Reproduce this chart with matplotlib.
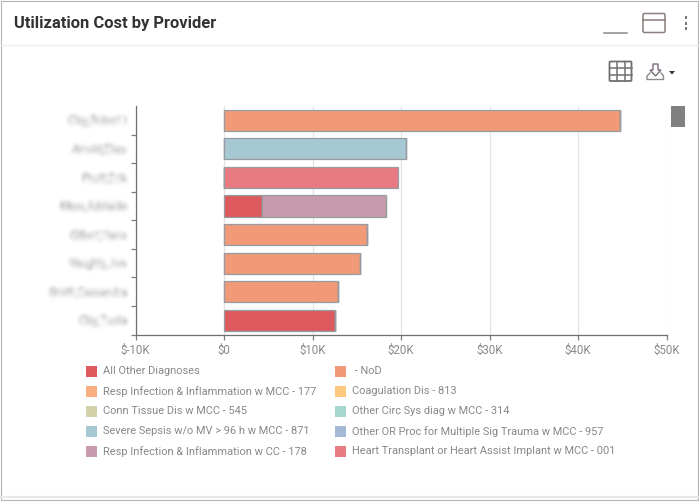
import numpy as np
import matplotlib
matplotlib.use('Agg')
import matplotlib.pyplot as plt
from matplotlib.patches import Rectangle, FancyBboxPatch, Polygon
from matplotlib.ticker import FuncFormatter

W, H = 699, 501

# names in the source image are blurred, these are best guesses
providers = ['Clay,Robert I', 'Arnold,Elias', 'Pruitt,Erik', 'Mass,Adelaide',
             'Gilbert,Hans', 'Vaughty,Jon', 'Smith,Cassandra', 'Clay,Tuola']
diagnoses = ['All Other Diagnoses', ' - NoD',
             'Resp Infection & Inflammation w MCC - 177', 'Coagulation Dis - 813',
             'Conn Tissue Dis w MCC - 545', 'Other Circ Sys diag w MCC - 314',
             'Severe Sepsis w/o MV > 96 h w MCC - 871',
             'Other OR Proc for Multiple Sig Trauma w MCC - 957',
             'Resp Infection & Inflammation w CC - 178',
             'Heart Transplant or Heart Assist Implant w MCC - 001']
colors = ['#dc5a5e', '#f09a78', '#f8ae80', '#fcc880', '#d2d2aa',
          '#a6d7cf', '#a5c8d2', '#a5b9d7', '#c79bac', '#e87a82']

# $K per provider, one list per diagnosis
all_other = [0, 0, 0, 4.25, 0, 0, 0, 12.55]
nod = [44.75, 0, 0, 0, 16.15, 15.4, 12.85, 0]
resp_177 = [0, 0, 0, 0, 0, 0, 0, 0]
coag_813 = [0, 0, 0, 0, 0, 0, 0, 0]
conn_545 = [0, 0, 0, 0, 0, 0, 0, 0]
circ_314 = [0, 0, 0, 0, 0, 0, 0, 0]
sepsis_871 = [0, 20.6, 0, 0, 0, 0, 0, 0]
trauma_957 = [0, 0, 0, 0, 0, 0, 0, 0]
resp_178 = [0, 0, 0, 14.0, 0, 0, 0, 0]
heart_001 = [0, 0, 19.7, 0, 0, 0, 0, 0]
series = [all_other, nod, resp_177, coag_813, conn_545,
          circ_314, sepsis_871, trauma_957, resp_178, heart_001]

xticks = [-10, 0, 10, 20, 30, 40, 50]

plt.rcParams['font.family'] = ['Roboto', 'DejaVu Sans']
GREY = '#7d7d7d'


def blur_filter(image, dpi, sigma=1.5, pad=6):
    ''' Gaussian blur for the provider names, passed to set_agg_filter '''
    xs = np.arange(-pad, pad + 1)
    kernel = np.exp(-xs ** 2 / (2 * sigma ** 2))
    kernel /= kernel.sum()
    out = np.pad(image, ((pad, pad), (pad, pad), (0, 0)))
    for axis in (0, 1):
        out = np.apply_along_axis(np.convolve, axis, out, kernel, mode='same')
    return out, -pad, -pad


fig = plt.figure(figsize=(W / 100, H / 100), dpi=100, facecolor='white')

# page chrome, drawn in pixel coordinates
page = fig.add_axes([0, 0, 1, 1], zorder=0)
page.set_xlim(0, W)
page.set_ylim(H, 0)
page.axis('off')

page.add_patch(Rectangle((0.5, 0.5), W - 1.5, H - 1.5, fill=False, ec='#b4b4b4', lw=0.8))
page.plot([1, W - 1], [44.5, 44.5], color='#ececec', lw=0.9)
page.plot([1, W - 1], [496.5, 496.5], color='#e8e8e8', lw=1.6)
page.text(14, 23, 'Utilization Cost by Provider', fontsize=11.85, fontweight='bold',
          color='#333333', va='center', ha='left')

page.plot([604, 627], [32.5, 32.5], color='#8a8a8a', lw=1.1)
page.add_patch(FancyBboxPatch((643, 13.5), 22, 19, boxstyle='round,pad=0,rounding_size=1.5',
                              fill=False, ec='#8a7f7a', lw=1.1))
page.plot([643, 665], [19.5, 19.5], color='#8a7f7a', lw=1.1)
for y in (17.5, 23.5, 28.5):
    page.add_patch(Rectangle((684.7, y - 1.3), 2.6, 2.6, color='#777777', lw=0))

page.add_patch(FancyBboxPatch((609.5, 61.5), 22, 19.5, boxstyle='round,pad=0,rounding_size=1',
                              fill=False, ec='#707070', lw=1.3))
for x in (617, 624.5):
    page.plot([x, x], [61.5, 81], color='#707070', lw=1.1)
for y in (68, 74.5):
    page.plot([609.5, 631.5], [y, y], color='#707070', lw=1.1)

page.add_patch(Polygon([(653, 64), (658, 64), (658, 70), (661, 70), (655.5, 76), (650, 70), (653, 70)],
                       fill=False, ec='#7a6a78', lw=1))
page.plot([650, 647, 647, 663.5, 663.5, 661], [73, 76, 79.5, 79.5, 76, 73], color='#8a8a8a', lw=1)
page.add_patch(Polygon([(669, 71), (675, 71), (672, 74.5)], color='#333333', lw=0))

page.add_patch(Rectangle((671, 105.5), 14, 21.5, color='#808080', lw=0))

# chart area: $-10K at x=135.5, $50K at x=666.5, band runs y=106 to 334.5
left, right, top, bottom = 135.5, 666.5, 106, 334.5
ax = fig.add_axes([left / W, 1 - bottom / H, (right - left) / W, (bottom - top) / H],
                  zorder=1)
ax.patch.set_alpha(0)

pos = list(range(len(providers)))
base = [0] * len(providers)
for vals, color in zip(series, colors):
    if not any(vals):
        continue
    ax.barh(pos, vals, left=base, height=0.74, color=color, edgecolor='#969ca2',
            linewidth=0.9, zorder=3)
    base = [b + v for b, v in zip(base, vals)]

ax.set_xlim(-10, 50)
ax.set_ylim(len(providers) - 0.5, -0.5)
ax.set_xticks(xticks)
ax.xaxis.set_major_formatter(FuncFormatter(lambda v, p: f'${v:.0f}K' if v else '$0'))
ax.set_yticks([p + 0.5 for p in pos])
ax.set_yticklabels([])
ax.grid(axis='x', color='#e4e4e4', lw=0.9, zorder=0)
ax.tick_params(axis='x', length=3.5, width=0.9, color=GREY, labelcolor='#8a8a8a',
               labelsize=8.3, pad=3.5)
ax.tick_params(axis='y', length=3.6, width=0.9, color=GREY)
for side in ('top', 'right'):
    ax.spines[side].set_visible(False)
for side in ('left', 'bottom'):
    ax.spines[side].set_color('#6e6e6e')
    ax.spines[side].set_linewidth(0.9)

for p, name in zip(pos, providers):
    t = ax.annotate(name, xy=(0, p), xycoords=('axes fraction', 'data'), xytext=(-6.5, -0.5),
                    textcoords='offset points', ha='right', va='center', fontsize=7.4,
                    color='#777777')
    t.set_agg_filter(blur_filter)

# legend is laid out by row, so place it by hand
col_x = [86, 335]
row_y = [371.5, 391.5, 411.5, 431.5, 451.5]
for i, (label, color) in enumerate(zip(diagnoses, colors)):
    x = col_x[i % 2]
    y = row_y[i // 2]
    page.add_patch(Rectangle((x, y - 5.5), 11, 11, color=color, lw=0))
    page.text(x + 17, y, label, fontsize=7.93, color='#888888', va='center', ha='left')

fig.savefig('out.png', dpi=100)
